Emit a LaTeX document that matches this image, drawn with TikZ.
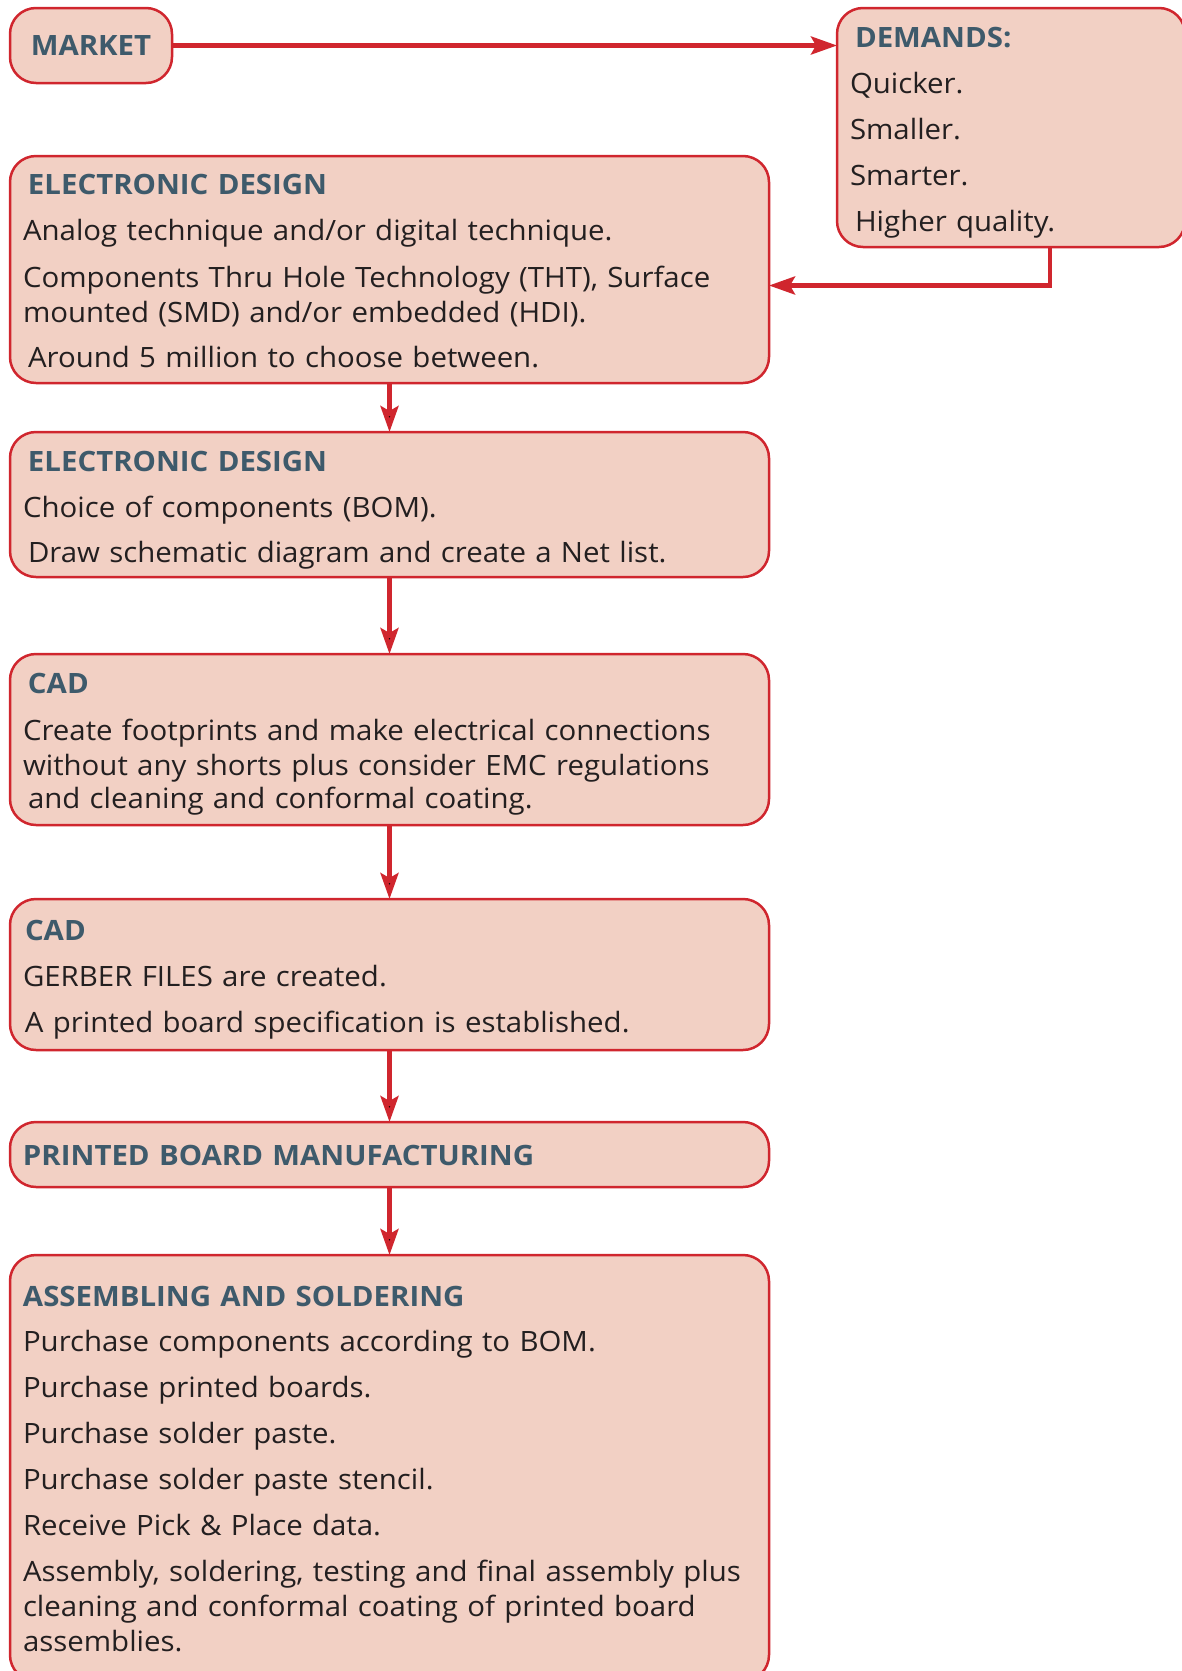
\documentclass[tikz,border=0pt]{standalone}
\usepackage{fontspec}
\setmainfont{Open Sans}[FakeStretch=1.05]
\usetikzlibrary{arrows.meta,positioning}
\definecolor{boxfill}{HTML}{F2D0C4}
\definecolor{boxred}{HTML}{D0262E}
\definecolor{hdblue}{HTML}{3E5A6B}
\definecolor{bodytext}{HTML}{231F20}
\newcommand{\hd}[1]{{\bfseries\color{hdblue}#1}}
\newcommand{\tgap}[1]{\rule{0pt}{#1pt}}
\newcommand{\bgap}[1]{\rule[-#1pt]{0pt}{#1pt}}

\begin{document}
\begin{tikzpicture}[->,>={Stealth[length=26pt,width=18pt,inset=5pt]},x=1pt,y=-1pt,node distance=49pt]
\tikzstyle{every node}=[font=\fontsize{28}{35}\selectfont,text=bodytext]
\tikzstyle{box}=[draw=boxred,fill=boxfill,line width=2.5pt,rounded corners=26pt,inner xsep=13pt,inner ysep=0pt,outer sep=0pt,align=left]
\tikzstyle{flow}=[draw=boxred,line width=4.5pt]
\useasboundingbox (0,0) rectangle (1181,1671);
\node[box,anchor=north west,align=center,minimum width=162pt,minimum height=75pt] (market) at (10,8) {\hd{MARKET}};
\node[box,anchor=north west,text width=322pt] (demands) at (837,8)
  {\tgap{39}\hspace*{5pt}\hd{DEMANDS:}\\[11pt]
   Quicker.\\[11pt]
   Smaller.\\[11pt]
   Smarter.\\[11pt]
   \hspace*{5pt}Higher quality.\bgap{16}};
\node[box,anchor=north west,text width=733pt] (ed1) at (10,156)
  {\tgap{38}\hspace*{5pt}\hd{ELECTRONIC DESIGN}\\[11pt]
   Analog technique and/or digital technique.\\[12pt]
   Components Thru Hole Technology (THT), Surface\\
   mounted (SMD) and/or embedded (HDI).\\[10pt]
   \hspace*{5pt}Around 5 million to choose between.\bgap{16}};
\node[box,text width=733pt] (ed2) [below=of ed1]
  {\tgap{39}\hspace*{5pt}\hd{ELECTRONIC DESIGN}\\[11pt]
   Choice of components (BOM).\\[10pt]
   \hspace*{5pt}Draw schematic diagram and create a Net list.\bgap{15}};
\node[box,text width=733pt] (cad1) [below=77pt of ed2]
  {\tgap{39}\hspace*{5pt}\hd{CAD}\\[12pt]
   Create footprints and make electrical connections\\
   without any shorts plus consider EMC regulations\\[-2pt]
   \hspace*{5pt}and cleaning and conformal coating.\bgap{17}};
\node[box,text width=733pt] (cad2) [below=74pt of cad1]
  {\tgap{41}\hspace*{2pt}\hd{CAD}\\[11pt]
   GERBER FILES are created.\\[11pt]
   \hspace*{2pt}A printed board specification is established.\bgap{18}};
\node[box,text width=733pt] (pbm) [below=72pt of cad2]
  {\tgap{43}\hd{PRINTED BOARD MANUFACTURING}\bgap{22}};
\node[box,text width=733pt] (asm) [below=68pt of pbm]
  {\tgap{51}\hd{ASSEMBLING AND SOLDERING}\\[10pt]
   Purchase components according to BOM.\\[11pt]
   Purchase printed boards.\\[11pt]
   Purchase solder paste.\\[11pt]
   Purchase solder paste stencil.\\[11pt]
   Receive Pick \& Place data.\\[11pt]
   Assembly, soldering, testing and final assembly plus\\
   cleaning and conformal coating of printed board\\
   assemblies.\bgap{30}};
% flow of the design
\draw[flow] (market) -- (market -| demands.west);
\draw[flow] ([xshift=39pt]demands.south) |- ([yshift=-16pt]ed1.east);
\path[flow]
(ed1) edge (ed2)
(ed2) edge (cad1)
(cad1) edge (cad2)
(cad2) edge (pbm)
(pbm) edge (asm);
\end{tikzpicture}
\end{document}
